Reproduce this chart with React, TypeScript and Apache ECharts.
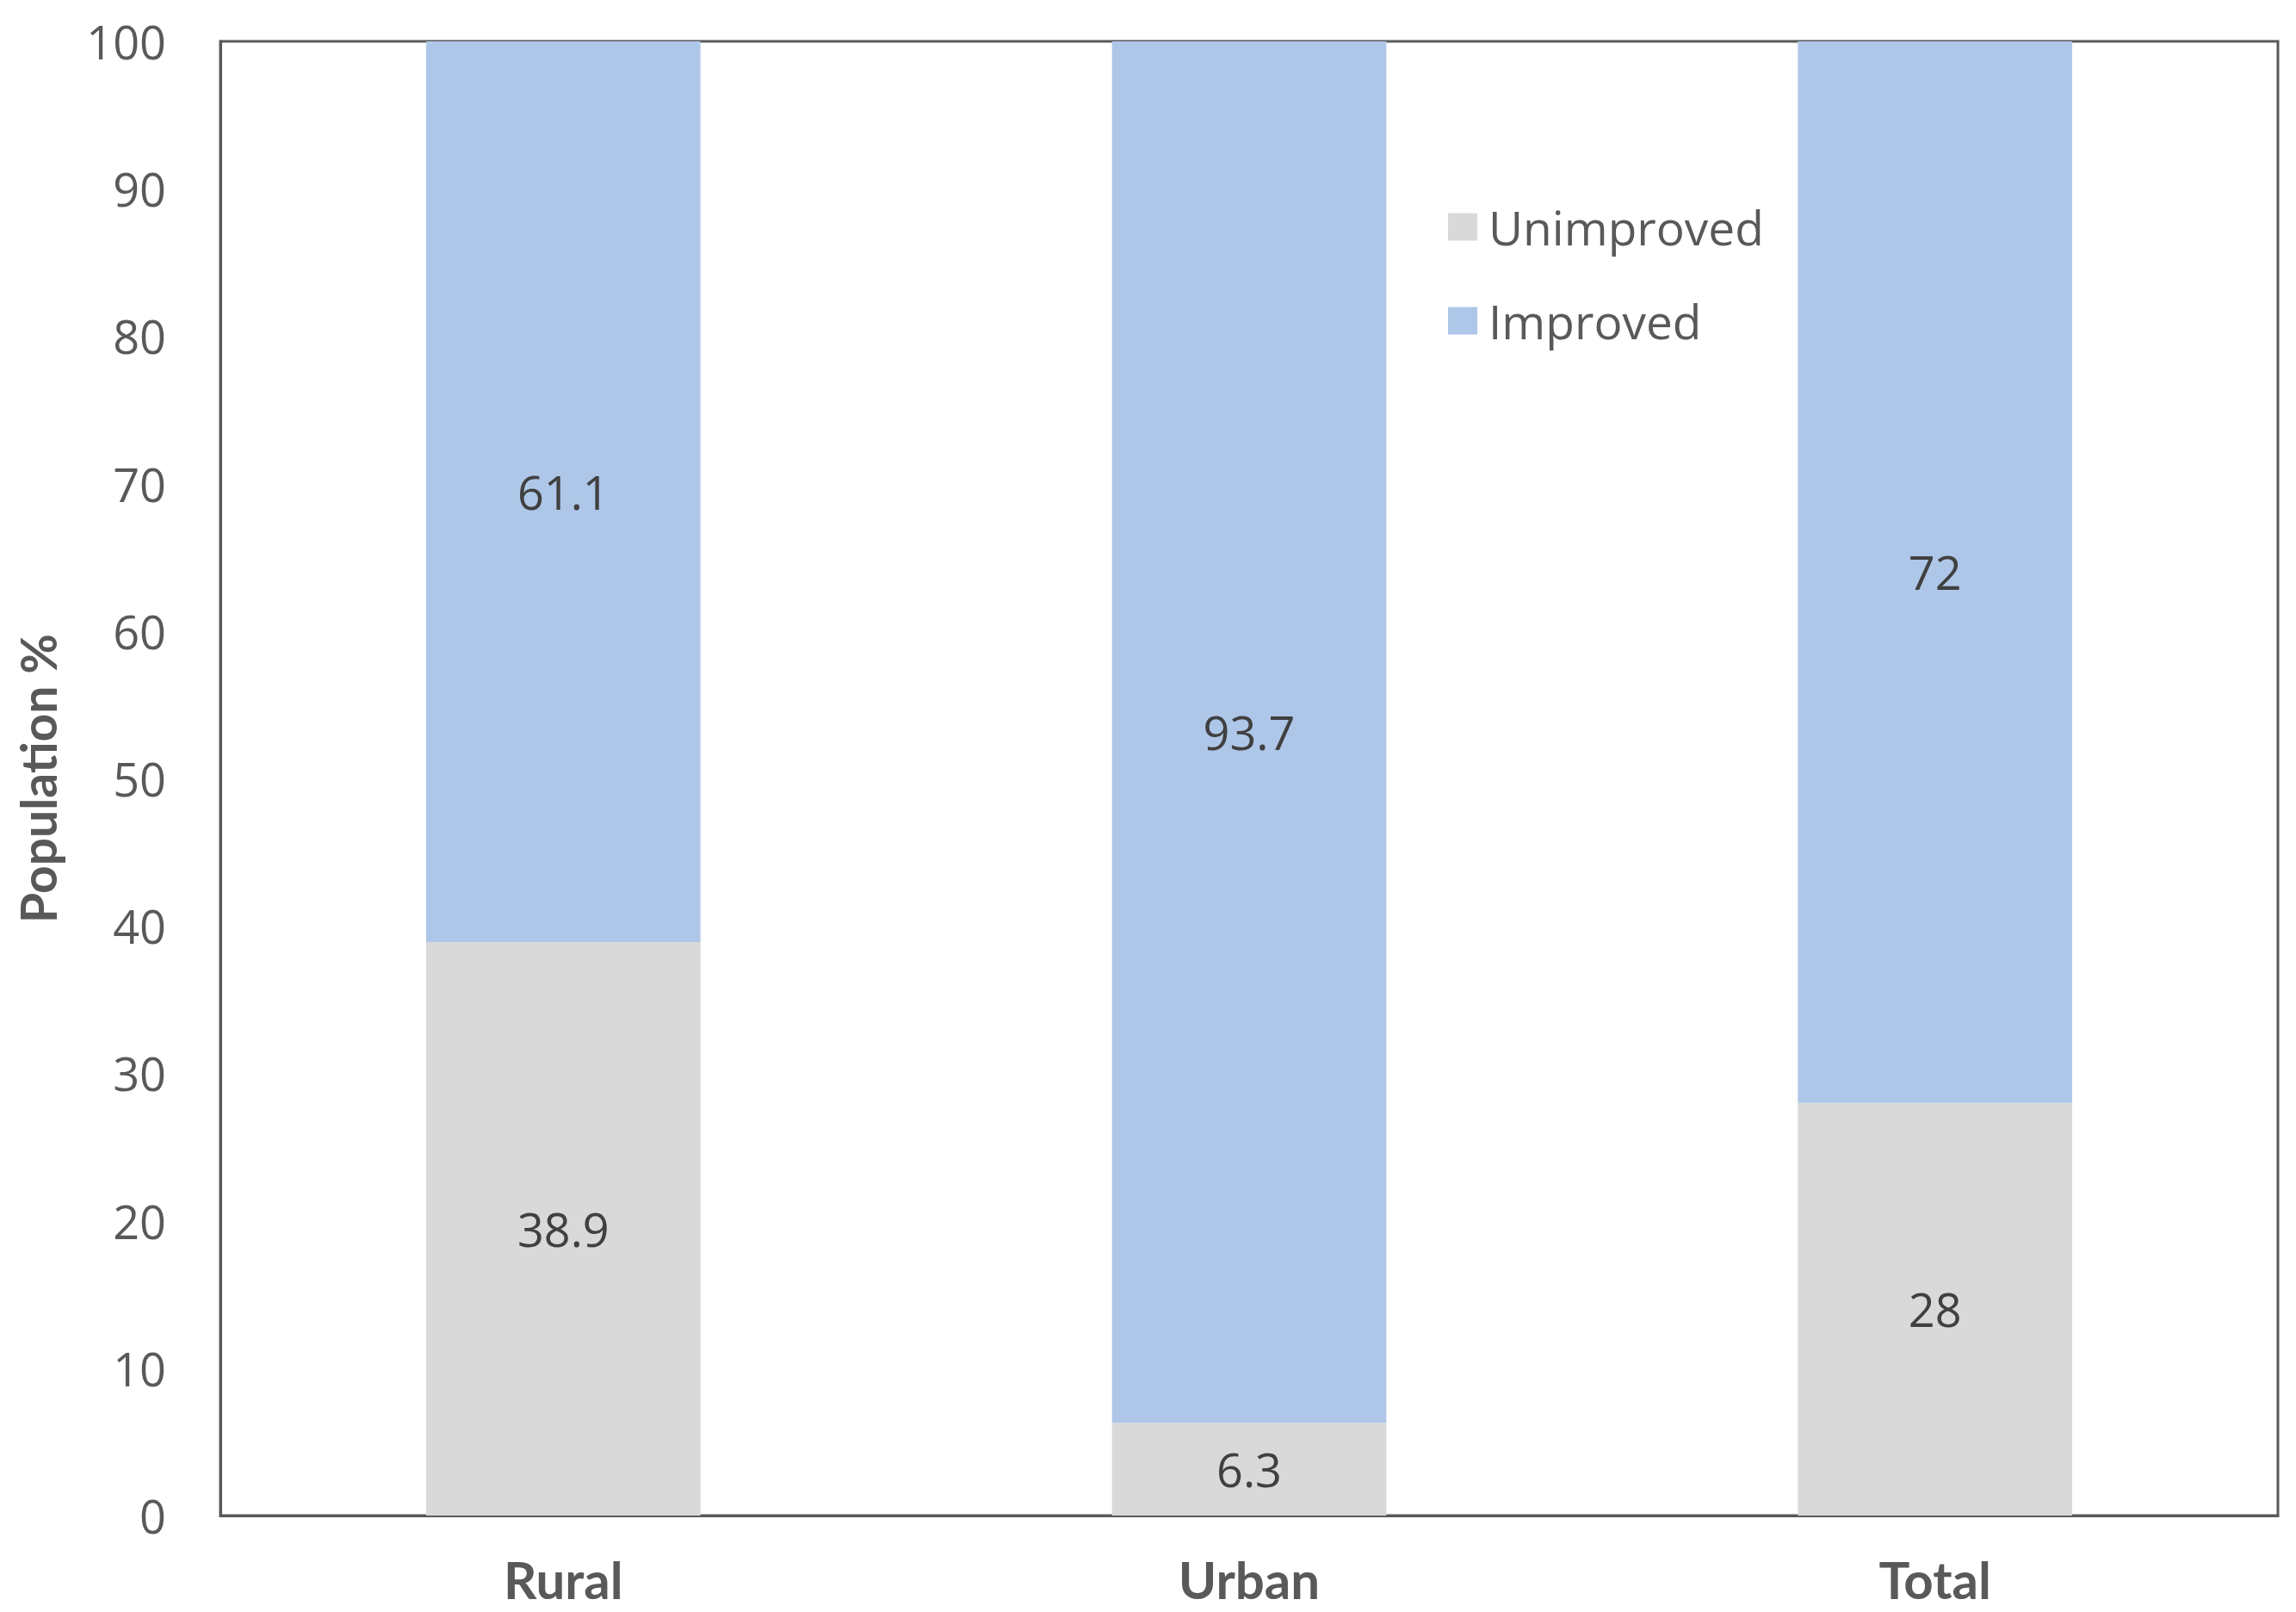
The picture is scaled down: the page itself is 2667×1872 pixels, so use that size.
import React, { useEffect, useRef } from "react";
import * as echarts from "echarts";

const categories = ["Rural", "Urban", "Total"];
const unimproved = [38.9, 6.3, 28];
const improved = [61.1, 93.7, 72];
const yTicks = { min: 0, max: 100, interval: 10 };

export default function App() {
  const ref = useRef<HTMLDivElement>(null);
  useEffect(() => {
    if (!ref.current) return;
    const chart = echarts.init(ref.current, undefined, { renderer: "svg" });
    const labelStyle = {
      show: true,
      position: "inside" as const,
      fontFamily: "Open Sans",
      fontSize: 54,
      color: "#404040",
    };
    chart.setOption({
      animation: false,
      backgroundColor: "#ffffff",
      grid: {
        left: 256,
        right: 21,
        top: 48,
        bottom: 112,
        show: true,
        borderColor: "#595959",
        borderWidth: 3,
        containLabel: false,
      },
      legend: {
        orient: "vertical",
        left: 1677,
        top: 231,
        itemWidth: 34,
        itemHeight: 32,
        itemGap: 54,
        icon: "rect",
        data: ["Unimproved", "Improved"],
        textStyle: {
          fontFamily: "Open Sans",
          fontSize: 55,
          color: "#595959",
          padding: [0, 0, 0, 8],
        },
      },
      xAxis: {
        type: "category",
        data: categories,
        axisLine: { show: true, lineStyle: { color: "#595959", width: 3 } },
        axisTick: { show: false },
        axisLabel: {
          margin: 44,
          fontFamily: "Lato",
          fontWeight: "bold",
          fontSize: 60,
          color: "#595959",
        },
      },
      yAxis: {
        type: "value",
        min: yTicks.min,
        max: yTicks.max,
        interval: yTicks.interval,
        name: "Population %",
        nameLocation: "middle",
        nameRotate: 90,
        nameGap: 184,
        nameTextStyle: {
          fontFamily: "Lato",
          fontWeight: "bold",
          fontSize: 57,
          color: "#595959",
        },
        axisLine: { show: true, lineStyle: { color: "#595959", width: 3 } },
        axisTick: { show: false },
        splitLine: { show: false },
        axisLabel: {
          margin: 63,
          fontFamily: "Open Sans",
          fontSize: 54,
          color: "#595959",
          verticalAlign: "middle",
          padding: [0, 0, 6, 0],
        },
      },
      series: [
        {
          name: "Unimproved",
          type: "bar",
          stack: "total",
          barWidth: "40%",
          data: unimproved,
          itemStyle: { color: "#D9D9D9" },
          label: labelStyle,
        },
        {
          name: "Improved",
          type: "bar",
          stack: "total",
          barWidth: "40%",
          data: improved,
          itemStyle: { color: "#AEC7E8" },
          label: labelStyle,
        },
      ],
    });
    return () => chart.dispose();
  }, []);
  return (
    <div
      ref={ref}
      style={{ position: "fixed", left: 0, top: 0, width: 2667, height: 1872 }}
    />
  );
}
